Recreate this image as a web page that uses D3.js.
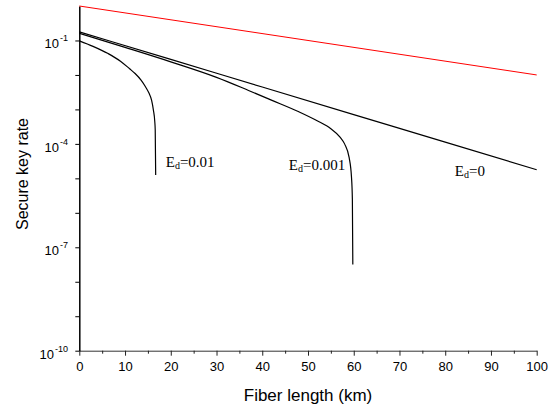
<!DOCTYPE html>
<html>
<head>
<meta charset="utf-8">
<script src="https://cdn.jsdelivr.net/npm/d3@7"></script>
<style>
    body { margin: 0; background: #fff; }
    svg { display: block; }
</style>
</head>
<body>
<div id="container"></div>
<script>
// fiber length (km) and secure key rate
var lenTx = [0, 100];
var rateTx = [1.0, 1.0e-2];

var lenEd0 = [0, 20, 40, 60, 80, 100];
var rateEd0 = [1.78e-1, 2.82e-2, 4.47e-3, 7.08e-4, 1.12e-4, 1.78e-5];

var lenEd001 = [0, 10, 20, 30, 37, 42, 48, 52, 55, 57, 58, 59, 59.5, 59.7, 59.8];
var rateEd001 = [1.62e-1, 6.31e-2, 2.40e-2, 8.51e-3, 3.55e-3, 1.86e-3, 8.51e-4, 4.68e-4,
    2.75e-4, 1.58e-4, 1.0e-4, 3.98e-5, 1.12e-5, 2.51e-6, 3.16e-8];

var lenEd01 = [0, 3, 6.3, 9, 11, 12.2, 13.5, 14.5, 15.2, 15.8, 16.2, 16.5, 16.6, 16.7];
var rateEd01 = [9.77e-2, 6.76e-2, 4.17e-2, 2.51e-2, 1.51e-2, 1.10e-2, 7.08e-3, 4.47e-3,
    3.02e-3, 1.86e-3, 9.55e-4, 4.47e-4, 2.51e-4, 1.26e-5];

var xTicks = [0, 10, 20, 30, 40, 50, 60, 70, 80, 90, 100];
var xMinorTicks = [5, 15, 25, 35, 45, 55, 65, 75, 85, 95];
var yTickExp = [-10, -7, -4, -1];
var yMinorExp = [-9, -8, -6, -5, -3, -2];

var curveLabels = [
    {text: '0.01', len: 18.9, rate: 2.2e-5},
    {text: '0.001', len: 45.8, rate: 1.8e-5},
    {text: '0', len: 82.1, rate: 1.2e-5}
];

var W = 552, H = 408;

function drawChart() {
    var svg = d3.select('#container').append('svg').attr('width', W).attr('height', H);

    var x = d3.scaleLinear().domain([0, 100]).range([79.3, 536.7]);
    var y = d3.scaleLog().domain([1e-10, 1]).range([350.7, 6]);

    // x axis
    var gx = svg.append('g').attr('transform', 'translate(0,' + y(1e-10) + ')');
    gx.call(d3.axisBottom(x).tickValues(xTicks).tickSize(5).tickSizeOuter(0).tickPadding(6));
    gx.append('g').call(d3.axisBottom(x).tickValues(xMinorTicks).tickSize(3).tickFormat(''))
        .select('.domain').remove();
    gx.select('.domain').attr('stroke', '#333').attr('stroke-width', 1);
    gx.selectAll('.tick line').attr('stroke', '#222');
    gx.selectAll('.tick text').attr('font-family', '"Liberation Sans", Arial, sans-serif')
        .attr('font-size', '13px').attr('fill', '#000');

    // y axis
    var gy = svg.append('g').attr('transform', 'translate(' + x(0) + ',0)');
    gy.call(d3.axisLeft(y).tickValues(yTickExp.map(function (e) { return Math.pow(10, e); }))
        .tickSize(4).tickSizeOuter(0).tickFormat(''));
    gy.append('g').call(d3.axisLeft(y).tickValues(yMinorExp.map(function (e) { return Math.pow(10, e); }))
        .tickSize(4).tickFormat('')).select('.domain').remove();
    gy.select('.domain').attr('stroke', '#000').attr('stroke-width', 1.5);

    // 10^n labels
    yTickExp.forEach(function (e) {
        var t = svg.append('text')
            .attr('x', 68)
            .attr('y', y(Math.pow(10, e)) + 8)
            .attr('text-anchor', 'end')
            .attr('font-family', '"Liberation Sans", Arial, sans-serif')
            .attr('font-size', '13px');
        t.append('tspan').text('10');
        t.append('tspan').attr('font-size', '9px').attr('dy', -7).attr('dx', 1).text(String(e));
    });

    // axis titles
    svg.append('text')
        .attr('x', x(50)).attr('y', 401)
        .attr('text-anchor', 'middle')
        .attr('font-family', '"Liberation Sans", Arial, sans-serif')
        .attr('font-size', '17px')
        .text('Fiber length (km)');
    svg.append('text')
        .attr('transform', 'translate(28,174) rotate(-90)')
        .attr('text-anchor', 'middle')
        .attr('font-family', '"Liberation Sans", Arial, sans-serif')
        .attr('font-size', '16px')
        .text('Secure key rate');

    var line = d3.line()
        .x(function (d) { return x(d[0]); })
        .y(function (d) { return y(d[1]); })
        .curve(d3.curveMonotoneX);

    var series = [
        {len: lenTx, rate: rateTx, color: '#ff0000', w: 1},
        {len: lenEd0, rate: rateEd0, color: '#000', w: 1.2},
        {len: lenEd001, rate: rateEd001, color: '#000', w: 1.2},
        {len: lenEd01, rate: rateEd01, color: '#000', w: 1.2}
    ];
    series.forEach(function (s) {
        var pts = s.len.map(function (l, i) { return [l, s.rate[i]]; });
        svg.append('path')
            .datum(pts)
            .attr('d', line)
            .attr('fill', 'none')
            .attr('stroke', s.color)
            .attr('stroke-width', s.w);
    });

    // E_d labels
    curveLabels.forEach(function (c) {
        var t = svg.append('text')
            .attr('x', x(c.len)).attr('y', y(c.rate))
            .attr('font-family', '"Liberation Serif", "Times New Roman", serif')
            .attr('font-size', '15px');
        t.append('tspan').text('E');
        t.append('tspan').attr('font-size', '10px').attr('dy', 2).text('d');
        t.append('tspan').attr('dy', -2).text('=' + c.text);
    });
}

drawChart();
</script>
</body>
</html>
